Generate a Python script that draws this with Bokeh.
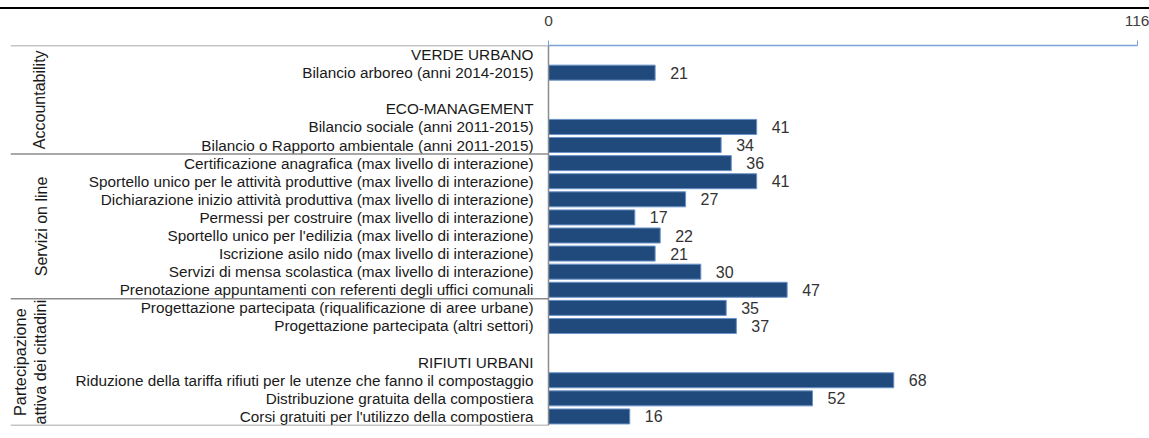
from bokeh.plotting import figure
from bokeh.models import FactorRange, Range1d, FixedTicker, Span, ColumnDataSource, Div
from bokeh.core.properties import value
from bokeh.layouts import column
from bokeh.embed import file_html
from bokeh.resources import INLINE

# ---------------- data ----------------
rows = [
    "VERDE URBANO",
    "Bilancio arboreo (anni 2014-2015)",
    " ",
    "ECO-MANAGEMENT",
    "Bilancio sociale (anni 2011-2015)",
    "Bilancio o Rapporto ambientale (anni 2011-2015)",
    "Certificazione anagrafica (max livello di interazione)",
    "Sportello unico per le attività produttive (max livello di interazione)",
    "Dichiarazione inizio attività produttiva (max livello di interazione)",
    "Permessi per costruire (max livello di interazione)",
    "Sportello unico per l'edilizia (max livello di interazione)",
    "Iscrizione asilo nido (max livello di interazione)",
    "Servizi di mensa scolastica (max livello di interazione)",
    "Prenotazione appuntamenti con referenti degli uffici comunali",
    "Progettazione partecipata (riqualificazione di aree urbane)",
    "Progettazione partecipata (altri settori)",
    "  ",
    "RIFIUTI URBANI",
    "Riduzione della tariffa rifiuti per le utenze che fanno il compostaggio",
    "Distribuzione gratuita della compostiera",
    "Corsi gratuiti per l'utilizzo della compostiera",
]
values = [None, 21, None, None, 41, 34, 36, 41, 27, 17, 22, 21, 30, 47,
          35, 37, None, None, 68, 52, 16]
groups = ["Accountability", "Servizi on line", "Partecipazione\nattiva dei cittadini"]
group_sizes = [6, 8, 7]
axis_ticks = [0, 116]

# ---------------- layout constants ----------------
FONT = "Liberation Sans"
W = 1149
TOP_GAP = 7
FIG_H = 438 - TOP_GAP - 2
LEFT_PX, BAR_PX = 538, 589          # label area / bar area widths (px)
FRAME_H = 380
BORDER_TOP = 36
XMAX = axis_ticks[-1]
XMIN = -XMAX * LEFT_PX / BAR_PX
N = len(rows)
GREY = "#8c8c8c"

p = figure(width=W, height=FIG_H, output_backend="svg", toolbar_location=None,
           x_range=Range1d(XMIN, XMAX),
           y_range=FactorRange(factors=rows[::-1], range_padding=0, factor_padding=0),
           x_axis_location="above", y_axis_location=None,
           min_border_left=10, min_border_right=W - 10 - LEFT_PX - BAR_PX,
           min_border_top=BORDER_TOP, min_border_bottom=FIG_H - BORDER_TOP - FRAME_H)
p.grid.visible = False
p.outline_line_color = None
p.background_fill_color = "white"

ax = p.xaxis[0]
ax.ticker = FixedTicker(ticks=axis_ticks)
ax.bounds = (0, XMAX)
ax.axis_line_color = "#7aa2d4"
ax.axis_line_width = 1.5
ax.major_tick_line_color = "#7aa2d4"
ax.major_tick_in = 0
ax.major_tick_out = 5
ax.minor_tick_line_color = None
ax.major_label_standoff = 15
ax.major_label_text_font = FONT
ax.major_label_text_font_size = "15.5px"
ax.major_label_text_color = "#404040"

# bars
bar_rows = [r for r, v in zip(rows, values) if v is not None]
bar_vals = [v for v in values if v is not None]
src = ColumnDataSource(dict(y=bar_rows, v=bar_vals, t=[str(v) for v in bar_vals]))
p.hbar(y="y", left=0, right="v", height=0.83, source=src,
       fill_color="#214a7c", line_color="#6a93c9", line_width=1)
p.text(x="v", y="y", text="t", source=src, x_offset=15, text_align="left",
       text_baseline="middle", text_font=value(FONT), text_font_size=value("16px"),
       text_color="#333333")

# category labels
p.text(x=[0] * N, y=rows, text=rows, x_offset=-15, text_align="right",
       text_baseline="middle", text_font=value(FONT), text_font_size=value("15.3px"),
       text_color="#1a1a1a")

# category axis line
p.add_layout(Span(location=0, dimension="height", line_color=GREY, line_width=1.5))

# group separators and labels
bounds = [N]
for s in group_sizes:
    bounds.append(bounds[-1] - s)
p.segment(x0=[XMIN] * len(bounds), x1=[0] * len(bounds), y0=bounds, y1=bounds,
          line_color=GREY, line_width=1.5)
centers = [(a + b) / 2 for a, b in zip(bounds[:-1], bounds[1:])]
sizes = ["16px", "16px", "16.3px"]
offsets = [37, 39, 39]
for g, c, fs, xo in zip(groups, centers, sizes, offsets):
    p.text(x=[XMIN], y=[c], text=[g], angle=1.5707963, x_offset=xo,
           text_align="center", text_baseline="bottom", text_line_height=1.15,
           text_font=value(FONT), text_font_size=value(fs), text_color="#1a1a1a")

topline = Div(width=W, height=2, margin=(TOP_GAP, 0, 0, 0),
              styles={"background-color": "#000000"})
layout = column(topline, p, spacing=0)

open("out.html", "w").write(file_html(layout, INLINE))
